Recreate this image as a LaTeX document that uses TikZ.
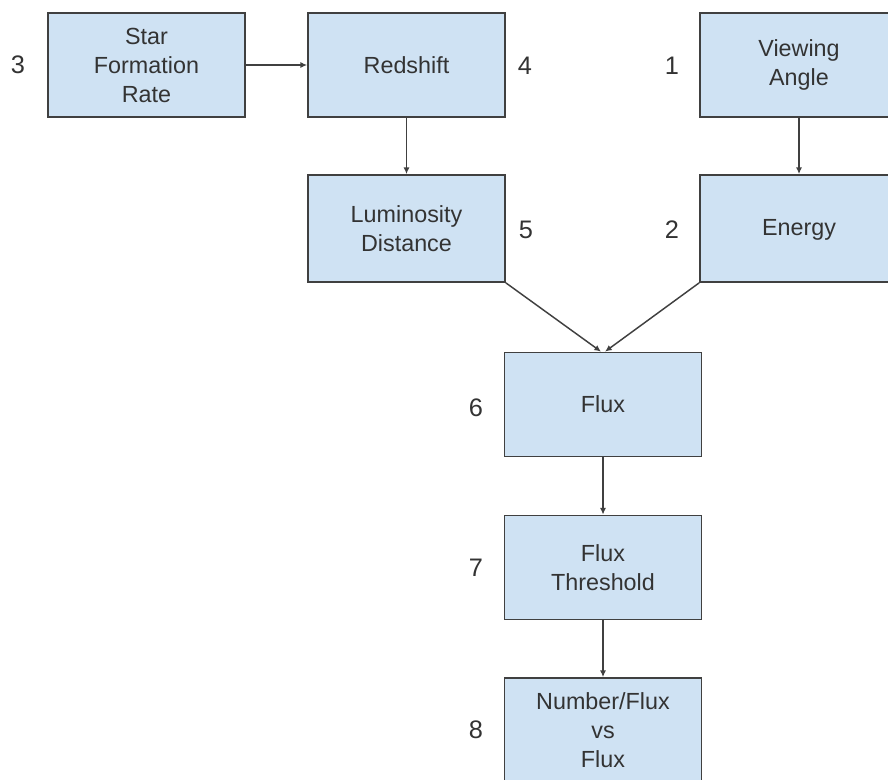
\documentclass[tikz,border=0pt]{standalone}
\usepackage{fontspec}
\setmainfont{Liberation Sans}
\usepackage{xcolor}
\usetikzlibrary{arrows.meta}
\definecolor{boxfill}{HTML}{CFE2F3}
\definecolor{boxline}{HTML}{404040}
\definecolor{txt}{HTML}{333333}

\begin{document}
\begin{tikzpicture}[x=0.75pt,y=-0.75pt]
		\tikzset{block/.style = {shape=rectangle, draw=boxline, fill=boxfill, line width=1.3pt,
			inner sep=0pt, minimum width=147.75pt, minimum height=78pt, align=center,
			text=txt, font=\fontsize{17.5}{21.75}\selectfont}}
		\tikzset{num/.style = {text=txt, font=\fontsize{19}{22}\selectfont}}
		\tikzset{edge/.style = {draw=boxline, line width=1.1pt, -{Latex[length=5pt,width=4.5pt]}}}

		\useasboundingbox (0,0) rectangle (888,779);

		\node[block] (SFR) at (146.5,65) {Star\\Formation\\Rate};
		\node[block] (Z) at (406.5,65) {Redshift};
		\node[block, minimum width=148.5pt] (VA) at (799,65) {Viewing\\Angle};
		\node[block, minimum height=80.25pt] (DL) at (406.5,228.5) {Luminosity\\Distance};
		\node[block, minimum width=148.5pt, minimum height=80.25pt, text depth=2pt] (E) at (799,228.5) {Energy};
		\node[block] (F) at (603,404.5) {Flux};
		\node[block] (FT) at (603,567.5) {Flux\\Threshold};
		\node[block] (NF) at (603,730) {Number/Flux\\vs\\Flux};

		\node[num] (n3) at (18,65) {3};
		\node[num] (n4) at (525,66) {4};
		\node[num] (n1) at (672,66) {1};
		\node[num] (n5) at (526,230) {5};
		\node[num] (n2) at (672,230) {2};
		\node[num] (n6) at (476,408) {6};
		\node[num] (n7) at (476,568) {7};
		\node[num] (n8) at (476,730) {8};

		\draw[edge] (SFR) to (Z);
		\draw[edge] (Z) to (DL);
		\draw[edge] (VA) to (E);
		\draw[edge] (DL.south east) to ([xshift=-1.5pt]F.north);
		\draw[edge] (E.south west) to ([xshift=1.5pt]F.north);
		\draw[edge] (F) to (FT);
		\draw[edge] (FT) to (NF);

	\end{tikzpicture}
\end{document}
